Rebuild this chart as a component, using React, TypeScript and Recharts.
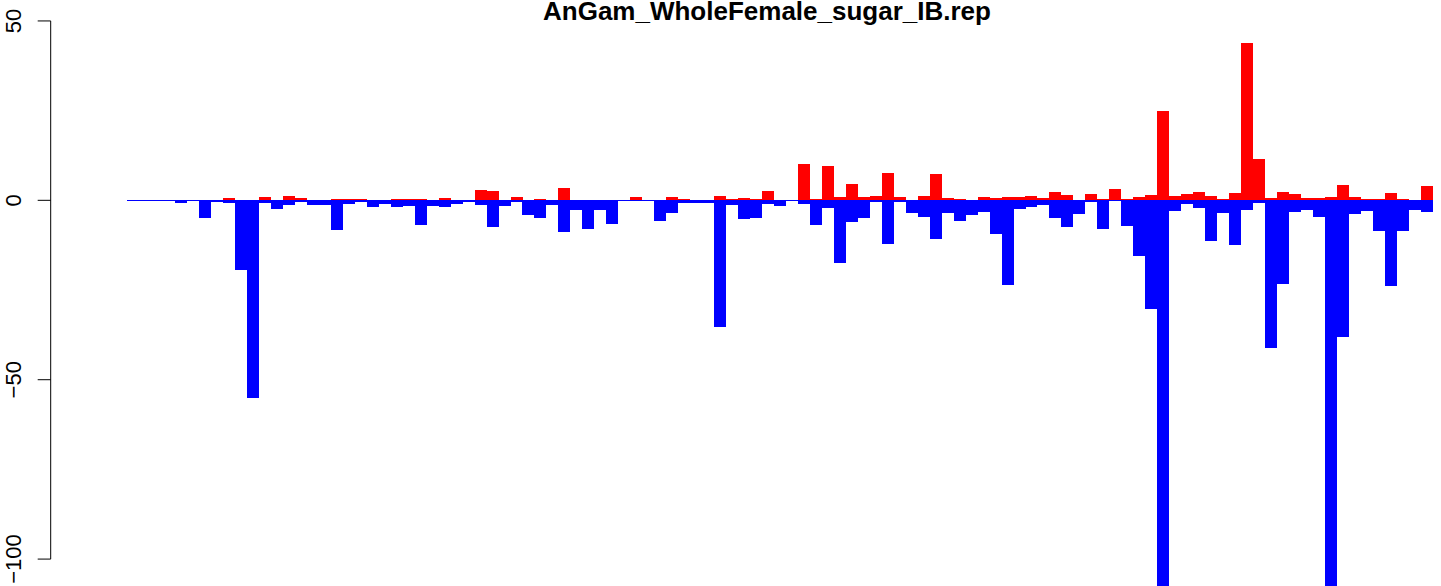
import React from 'react';
import { BarChart, Bar, XAxis, YAxis } from 'recharts';

// red = positive part, blue = negative part of each bar
const POS = [
  0, 0, 0, 0, 0, 0, 0, 0, 0, 0,
  0.55, 0, 0, 0.85, 0, 1.1, 0.55, 0, 0, 0.3,
  0.3, 0.3, 0, 0, 0.3, 0.3, 0.3, 0, 0.55, 0,
  0, 2.8, 2.5, 0, 0.85, 0, 0.3, 0, 3.35, 0,
  0, 0, 0, 0, 0.85, 0, 0, 0.85, 0.3, 0,
  0, 1.1, 0.3, 0.55, 0.3, 2.5, 0, 0, 10.0, 0.3,
  9.5, 0.85, 4.5, 0.85, 1.1, 7.5, 0.85, 0, 1.1, 7.25,
  0.55, 0.3, 0, 0.85, 0.55, 0.85, 0.85, 1.1, 0.55, 2.2,
  1.4, 0, 1.7, 0.3, 3.1, 0.3, 0.85, 1.4, 24.9, 1.1,
  1.7, 2.2, 1.1, 0.3, 1.95, 43.9, 11.4, 0.55, 2.2, 1.7,
  0.55, 0.55, 0.85, 4.2, 0.85, 0.3, 0.3, 1.95, 0.3, 0,
  3.9,
];

const NEG = [
  0, 0, -0.2, -0.2, -0.2, -0.2, -0.7, -0.3, -4.8, -0.5,
  -0.75, -19.3, -55.2, -0.7, -2.4, -1.3, -0.5, -1.3, -1.3, -8.3,
  -1.0, -0.4, -1.9, -1.0, -1.9, -1.6, -6.9, -1.6, -1.9, -1.0,
  -0.5, -1.3, -7.4, -1.6, -0.4, -4.1, -4.9, -1.3, -8.8, -2.7,
  -8.0, -2.7, -6.6, -0.2, -0.2, -0.3, -5.8, -3.5, -0.75, -0.75,
  -0.75, -35.4, -1.3, -5.2, -4.9, -1.0, -1.6, -0.2, -1.0, -6.9,
  -2.1, -17.5, -6.0, -4.9, -0.5, -12.2, -0.5, -3.5, -4.6, -10.8,
  -3.5, -5.8, -4.1, -3.25, -9.5, -23.6, -2.4, -1.9, -1.3, -4.9,
  -7.4, -3.8, -0.5, -8.0, -0.2, -7.2, -15.5, -30.4, -115, -3.0,
  -1.0, -2.1, -11.3, -3.5, -12.5, -2.7, -0.75, -41.2, -23.3, -3.25,
  -2.7, -4.6, -115, -38.1, -3.8, -3.0, -8.5, -23.9, -8.5, -2.7,
  -3.25,
];

const Y_TICKS = [50, 0, -50, -100];
const TITLE = 'AnGam_WholeFemale_sugar_IB.rep';

const W = 1441;
const H = 586;
const Y_MIN = -107.5;
const Y_MAX = 55;
const MARGIN = { top: 3, right: 8.3, bottom: 0, left: 0 };
const PLOT_H = H - MARGIN.top - MARGIN.bottom;
const PX_PER_UNIT = PLOT_H / (Y_MAX - Y_MIN);
const AXIS_X = 50.7;
const FONT = '"Liberation Sans", Arial, Helvetica, sans-serif';

const data = POS.map((p, i) => ({ idx: i, pos: p, neg: NEG[i] }));

const YTick = (props: any) => {
  const { y, payload } = props;
  const v = payload.value as number;
  return (
    <g>
      <line x1={AXIS_X - 13} x2={AXIS_X} y1={y} y2={y} stroke="#000" strokeWidth={1} />
      {v === Y_TICKS[0] && (
        <line
          x1={AXIS_X}
          x2={AXIS_X}
          y1={y}
          y2={y + (Y_TICKS[0] - Y_TICKS[Y_TICKS.length - 1]) * PX_PER_UNIT}
          stroke="#000"
          strokeWidth={1}
        />
      )}
      <text
        x={20.6}
        y={y}
        transform={`rotate(-90, 20.6, ${y})`}
        textAnchor="middle"
        fontSize={22}
        fontFamily={FONT}
        fill="#000"
      >
        {v < 0 ? `\u2212${Math.abs(v)}` : v}
      </text>
    </g>
  );
};

export default function App() {
  return (
    <div style={{ position: 'absolute', left: 0, top: 0, width: W, height: H, background: '#fff' }}>
      <style>{'.recharts-bar-rectangle path{shape-rendering:crispEdges}'}</style>
      <BarChart
        width={W}
        height={H}
        data={data}
        margin={MARGIN}
        barCategoryGap={0}
        barGap={0}
        stackOffset="sign"
      >
        <XAxis dataKey="idx" hide padding={{ left: 103.3 - AXIS_X, right: 0 }} />
        <YAxis
          width={AXIS_X}
          domain={[Y_MIN, Y_MAX]}
          allowDataOverflow
          ticks={Y_TICKS}
          axisLine={false}
          tickLine={false}
          tick={<YTick />}
          interval={0}
        />
        <Bar dataKey="pos" stackId="a" fill="#FF0000" isAnimationActive={false} />
        <Bar dataKey="neg" stackId="a" fill="#0000FF" isAnimationActive={false} />
      </BarChart>
      <svg width={W} height={30} style={{ position: 'absolute', left: 0, top: 0 }}>
        <text
          x={767}
          y={19.5}
          textAnchor="middle"
          fontSize={26}
          fontWeight="bold"
          fontFamily={FONT}
          fill="#000"
        >
          {TITLE}
        </text>
      </svg>
    </div>
  );
}
